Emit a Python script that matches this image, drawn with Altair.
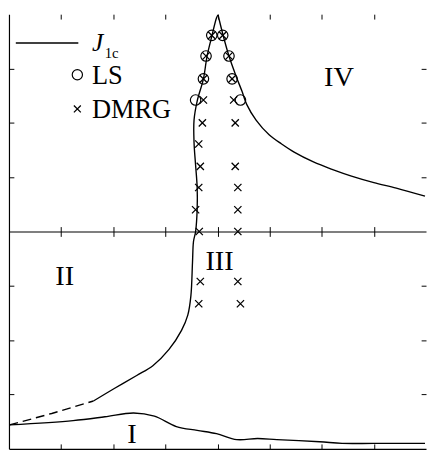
import altair as alt
import pandas as pd

# ---- data (x in tick units 0..8, y in tick units -4..4) ----
# J1c phase boundary, solid part: left branch (bottom to cusp)
jl_x = [1.62, 2.02, 2.45, 2.76, 3.07, 3.31, 3.43, 3.49, 3.52, 3.54,
        3.58, 3.61, 3.61, 3.58, 3.55, 3.55, 3.61, 3.73, 3.80, 3.89,
        3.98, 4.01]
jl_y = [-3.12, -2.89, -2.65, -2.47, -2.17, -1.82, -1.54, -1.18, -0.58, -0.18,
        0.00, 0.41, 0.81, 1.22, 1.64, 2.05, 2.40, 2.81, 3.23, 3.59,
        3.93, 3.99]
# right branch (cusp to right edge)
jr_x = [4.01, 4.10, 4.22, 4.36, 4.47, 4.56, 4.74, 4.99, 5.23, 5.47,
        5.84, 6.21, 6.57, 7.00, 7.43, 7.98]
jr_y = [3.99, 3.64, 3.23, 2.85, 2.58, 2.34, 2.05, 1.78, 1.61, 1.46,
        1.28, 1.14, 1.02, 0.90, 0.80, 0.65]
# J1c dashed extrapolation
dash_x = [0.01, 0.82, 1.62]
dash_y = [-3.56, -3.35, -3.12]
# phase I boundary
low_x = [0.01, 1.23, 1.84, 2.39, 2.79, 3.21, 3.61, 3.98, 4.37, 4.77, 5.14, 5.96, 6.39, 7.00, 7.98]
low_y = [-3.56, -3.48, -3.41, -3.34, -3.40, -3.59, -3.66, -3.72, -3.83, -3.81, -3.83, -3.87, -3.90, -3.90, -3.90]
# LS points
ls_x = [3.89, 4.10, 3.78, 4.22, 3.73, 4.28, 3.58, 4.44]
ls_y = [3.61, 3.61, 3.23, 3.23, 2.81, 2.81, 2.42, 2.42]
# DMRG points
dm_x = [3.89, 4.10, 3.78, 4.22, 3.73, 4.28, 3.73, 4.31, 3.71, 4.34, 3.64, 3.67,
        4.34, 3.64, 4.39, 3.58, 4.39, 3.65, 4.39, 3.67, 4.39, 3.64, 4.44]
dm_y = [3.61, 3.61, 3.23, 3.23, 2.81, 2.81, 2.42, 2.42, 2.00, 2.00, 1.61, 1.20,
        1.20, 0.81, 0.81, 0.40, 0.40, 0.00, 0.00, -0.92, -0.92, -1.33, -1.33]
# region labels
reg_text = ["I", "II", "III", "IV"]
reg_x = [2.36, 1.07, 4.04, 6.33]
reg_y = [-3.73, -0.83, -0.54, 2.84]
x_ticks = [1, 2, 3, 4, 5, 6, 7]
y_ticks = [-3, -2, -1, 1, 2, 3]

W, H = 427, 445
FONT = "Liberation Serif"

df_j = pd.concat([
    pd.DataFrame({"x": jl_x, "y": jl_y, "i": range(len(jl_x)), "seg": "left"}),
    pd.DataFrame({"x": jr_x, "y": jr_y, "i": range(len(jr_x)), "seg": "right"}),
])
df_d = pd.DataFrame({"x": dash_x, "y": dash_y, "i": range(len(dash_x))})
df_l = pd.DataFrame({"x": low_x, "y": low_y, "i": range(len(low_x))})
df_ls = pd.DataFrame({"x": ls_x, "y": ls_y})
df_dm = pd.DataFrame({"x": dm_x, "y": dm_y})
df_reg = pd.DataFrame({"x": reg_x, "y": reg_y, "t": reg_text})
one = pd.DataFrame({"a": [0]})

xs = alt.Scale(domain=[0, 8], nice=False, zero=False)
ys = alt.Scale(domain=[-4, 4], nice=False, zero=False)

common = dict(labels=False, title=None, grid=False, ticks=True, tickSize=5,
              tickColor="black", tickWidth=1, domainColor="black", domainWidth=1.2)

ax_top = alt.Axis(orient="bottom", offset=-H, values=x_ticks, domain=False, **common)
ax_mid_dn = alt.Axis(orient="bottom", offset=-H / 2, values=x_ticks, domain=True, **common)
ax_mid_up = alt.Axis(orient="top", offset=-H / 2, values=x_ticks, domain=False, **common)
ax_bot = alt.Axis(orient="top", offset=-H, values=x_ticks, domain=True, **common)
ax_left = alt.Axis(orient="right", offset=-W, values=y_ticks, domain=True, **common)
ax_right = alt.Axis(orient="left", offset=-W, values=y_ticks, domain=False, **common)

LW = 1.4
low = alt.Chart(df_l).mark_line(color="black", strokeWidth=LW, clip=True,
                                interpolate="catmull-rom").encode(
    x=alt.X("x:Q", scale=xs, axis=ax_top),
    y=alt.Y("y:Q", scale=ys, axis=ax_left),
    order="i:Q",
)
j1c = alt.Chart(df_j).mark_line(color="black", strokeWidth=LW, clip=True,
                                interpolate="catmull-rom").encode(
    x=alt.X("x:Q", scale=xs, axis=ax_mid_dn),
    y=alt.Y("y:Q", scale=ys, axis=ax_right),
    detail="seg:N",
    order="i:Q",
)
dash = alt.Chart(df_d).mark_line(color="black", strokeWidth=LW, strokeDash=[9, 5], clip=True).encode(
    x=alt.X("x:Q", scale=xs, axis=ax_mid_up),
    y=alt.Y("y:Q", scale=ys, axis=None),
    order="i:Q",
)
ls = alt.Chart(df_ls).mark_point(shape="circle", filled=False, color="black",
                                 size=115, strokeWidth=1.2, opacity=1).encode(
    x=alt.X("x:Q", scale=xs, axis=ax_bot),
    y=alt.Y("y:Q", scale=ys, axis=None),
)
CROSS = "M-1,-1L1,1M-1,1L1,-1"
dm = alt.Chart(df_dm).mark_point(shape=CROSS, filled=False, color="black",
                                 size=55, strokeWidth=1.3, opacity=1).encode(
    x=alt.X("x:Q", scale=xs, axis=None),
    y=alt.Y("y:Q", scale=ys, axis=None),
)
reg = alt.Chart(df_reg).mark_text(font=FONT, fontSize=29, color="black",
                                  align="center", baseline="middle").encode(
    x=alt.X("x:Q", scale=xs, axis=None),
    y=alt.Y("y:Q", scale=ys, axis=None),
    text="t:N",
)

# legend
leg_line = alt.Chart(one).mark_rule(color="black", strokeWidth=LW).encode(
    x=alt.value(7), x2=alt.value(71), y=alt.value(29.5))
leg_j = alt.Chart(one).mark_text(text="J", font=FONT, fontSize=26, fontStyle="italic",
                                 color="black", align="left", baseline="alphabetic").encode(
    x=alt.value(85), y=alt.value(38))
leg_sub = alt.Chart(one).mark_text(text="1c", font=FONT, fontSize=15,
                                   color="black", align="left", baseline="alphabetic").encode(
    x=alt.value(98), y=alt.value(45))
leg_circ = alt.Chart(one).mark_point(shape="circle", filled=False, color="black",
                                     size=110, strokeWidth=1.2, opacity=1).encode(
    x=alt.value(70), y=alt.value(62))
leg_ls = alt.Chart(one).mark_text(text="LS", font=FONT, fontSize=27, color="black",
                                  align="left", baseline="middle").encode(
    x=alt.value(85), y=alt.value(63))
leg_cross = alt.Chart(one).mark_point(shape=CROSS, filled=False, color="black",
                                      size=50, strokeWidth=1.3, opacity=1).encode(
    x=alt.value(70), y=alt.value(97))
leg_dm = alt.Chart(one).mark_text(text="DMRG", font=FONT, fontSize=27, color="black",
                                  align="left", baseline="middle").encode(
    x=alt.value(85), y=alt.value(98))

chart = alt.layer(
    low, j1c, dash, ls, dm, reg,
    leg_line, leg_j, leg_sub, leg_circ, leg_ls, leg_cross, leg_dm,
).resolve_axis(x="independent", y="independent").properties(
    width=W, height=H, padding=0, background="white"
).configure_view(stroke=None)

chart.save("out.html", embed_options={"renderer": "svg", "actions": False})
